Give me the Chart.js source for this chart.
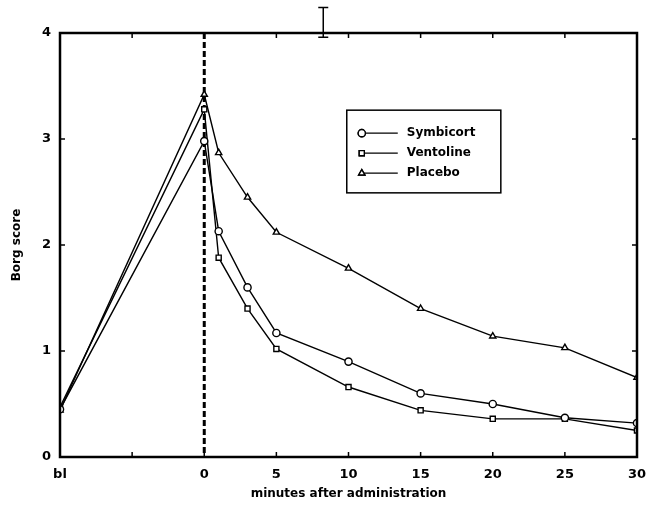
<!DOCTYPE html>
<html>
<head>
<meta charset="utf-8">
<script src="https://cdn.jsdelivr.net/npm/chart.js@4"></script>
<style>
  html, body { margin: 0; padding: 0; background: #fff; }
  #wrap { width: 646px; height: 510px; }
</style>
</head>
<body>
<div id="wrap"><canvas id="borg"></canvas></div>
<script>
// minutes after administration; -10 stands for the baseline ("bl")
const minutes = [-10, 0, 1, 3, 5, 10, 15, 20, 25, 30];
const symbicort = [0.45, 2.98, 2.13, 1.60, 1.17, 0.90, 0.60, 0.50, 0.37, 0.32];
const ventoline = [0.47, 3.28, 1.88, 1.40, 1.02, 0.66, 0.44, 0.36, 0.36, 0.25];
const placebo = [0.44, 3.42, 2.87, 2.45, 2.12, 1.78, 1.40, 1.14, 1.03, 0.75];
const seriesNames = ['Symbicort', 'Ventoline', 'Placebo'];
const xTicks = [-10, -5, 0, 5, 10, 15, 20, 25, 30];
const yTicks = [0, 1, 2, 3, 4];

const FONT = '"DejaVu Sans", sans-serif';

function toPoints(values) {
    return values.map((v, i) => ({ x: minutes[i], y: v }));
}

function makeSet(label, values, style) {
    return {
        label: label,
        data: toPoints(values),
        borderColor: '#000',
        borderWidth: 1.4,
        pointStyle: style,
        pointRadius: 3.6,
        pointBorderWidth: 1.4,
        pointBackgroundColor: '#fff',
        pointBorderColor: '#000',
        tension: 0
    };
}

// frame, inward ticks, dashed line at 0 and the legend box
const decorations = {
    id: 'decorations',
    beforeDatasetsDraw(chart) {
        const { ctx, chartArea, scales } = chart;
        const x0 = scales.x.getPixelForValue(0);
        ctx.save();
        ctx.strokeStyle = '#000';
        ctx.lineWidth = 3;
        ctx.setLineDash([6, 3]);
        ctx.beginPath();
        ctx.moveTo(x0, chartArea.top);
        ctx.lineTo(x0, chartArea.bottom);
        ctx.stroke();
        ctx.restore();
    },
    afterDatasetsDraw(chart) {
        const { ctx, chartArea: a, scales } = chart;
        ctx.save();
        ctx.strokeStyle = '#000';

        // inward ticks
        ctx.lineWidth = 1.5;
        ctx.beginPath();
        xTicks.forEach(v => {
            const px = scales.x.getPixelForValue(v);
            ctx.moveTo(px, a.bottom); ctx.lineTo(px, a.bottom - 5);
            ctx.moveTo(px, a.top); ctx.lineTo(px, a.top + 5);
        });
        yTicks.forEach(v => {
            const py = scales.y.getPixelForValue(v);
            ctx.moveTo(a.left, py); ctx.lineTo(a.left + 5, py);
            ctx.moveTo(a.right, py); ctx.lineTo(a.right - 5, py);
        });
        ctx.stroke();

        // frame
        ctx.lineWidth = 2.5;
        ctx.strokeRect(a.left, a.top, a.right - a.left, a.bottom - a.top);

        // small I-beam above the frame
        const ix = scales.x.getPixelForValue(8.25);
        const iy1 = scales.y.getPixelForValue(4.24);
        const iy2 = scales.y.getPixelForValue(3.96);
        ctx.lineWidth = 1.5;
        ctx.beginPath();
        ctx.moveTo(ix, iy1); ctx.lineTo(ix, iy2);
        ctx.moveTo(ix - 5, iy1); ctx.lineTo(ix + 5, iy1);
        ctx.moveTo(ix - 5, iy2); ctx.lineTo(ix + 5, iy2);
        ctx.stroke();

        // legend box
        const w = a.right - a.left, h = a.bottom - a.top;
        const bx = a.left + 0.497 * w, by = a.top + 0.182 * h;
        const bw = 0.267 * w, bh = 0.195 * h;
        ctx.fillStyle = '#fff';
        ctx.fillRect(bx, by, bw, bh);
        ctx.lineWidth = 1.5;
        ctx.strokeRect(bx, by, bw, bh);
        ctx.font = 'bold 12px ' + FONT;
        ctx.textBaseline = 'middle';
        chart.data.datasets.forEach((ds, i) => {
            const ry = by + 23 + i * 20;
            ctx.lineWidth = 1.4;
            ctx.strokeStyle = '#000';
            ctx.beginPath();
            ctx.moveTo(bx + 15, ry);
            ctx.lineTo(bx + 51, ry);
            ctx.stroke();
            Chart.helpers.drawPoint(ctx, {
                pointStyle: ds.pointStyle, radius: 3.6, borderWidth: 1.4
            }, bx + 15, ry);
            ctx.fillStyle = '#fff';
            ctx.fill();
            ctx.stroke();
            ctx.fillStyle = '#000';
            ctx.fillText(ds.label, bx + 60, ry);
        });
        ctx.restore();
    }
};

new Chart(document.getElementById('borg'), {
    type: 'line',
    data: {
        datasets: [
            makeSet(seriesNames[0], symbicort, 'circle'),
            makeSet(seriesNames[1], ventoline, 'rect'),
            makeSet(seriesNames[2], placebo, 'triangle')
        ]
    },
    options: {
        responsive: true,
        maintainAspectRatio: false,
        animation: false,
        layout: { padding: { top: 33, right: 9, left: 10, bottom: 9 } },
        plugins: {
            legend: { display: false },
            tooltip: { enabled: false }
        },
        scales: {
            x: {
                type: 'linear',
                min: -10,
                max: 30,
                afterBuildTicks: scale => {
                    scale.ticks = xTicks.map(v => ({ value: v }));
                },
                afterFit: scale => {
                    scale.height = 44;
                    scale.paddingLeft = 0;
                    scale.paddingRight = 0;
                },
                grid: { display: false, drawTicks: false },
                border: { display: false },
                ticks: {
                    padding: 10,
                    color: '#000',
                    font: { family: FONT, size: 13, weight: 'bold' },
                    maxRotation: 0,
                    autoSkip: false,
                    callback: v => v === -10 ? 'bl' : (v === -5 ? '' : String(v))
                },
                title: {
                    display: true,
                    text: 'minutes after administration',
                    color: '#000',
                    font: { family: FONT, size: 12, weight: 'bold' },
                    padding: { top: 2, bottom: 0 }
                }
            },
            y: {
                min: 0,
                max: 4,
                afterBuildTicks: scale => {
                    scale.ticks = yTicks.map(v => ({ value: v }));
                },
                afterFit: scale => {
                    scale.width = 50;
                    scale.paddingTop = 0;
                    scale.paddingBottom = 0;
                },
                grid: { display: false, drawTicks: false },
                border: { display: false },
                ticks: {
                    padding: 9,
                    color: '#000',
                    font: { family: FONT, size: 13, weight: 'bold' }
                },
                title: {
                    display: true,
                    text: 'Borg score',
                    color: '#000',
                    font: { family: FONT, size: 12, weight: 'bold' },
                    padding: { top: 0, bottom: 6 }
                }
            }
        }
    },
    plugins: [decorations]
});
</script>
</body>
</html>
